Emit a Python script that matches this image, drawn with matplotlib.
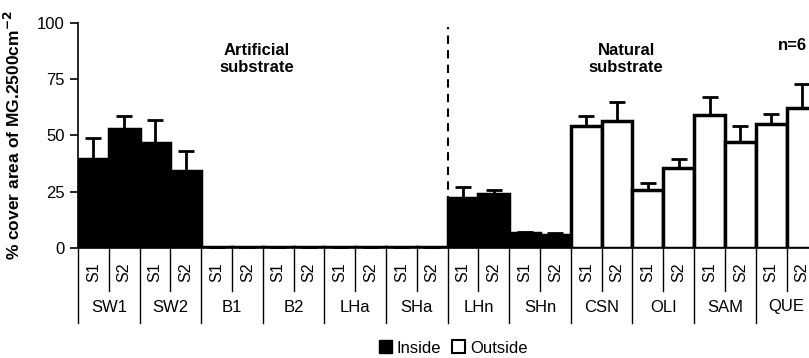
import numpy as np
import matplotlib.pyplot as plt
from matplotlib.patches import Patch
import matplotlib.transforms as mtransforms

plt.rcParams['font.family'] = ['Liberation Sans', 'DejaVu Sans']

# sites and sampling times
sites = ['SW1', 'SW2', 'B1', 'B2', 'LHa', 'SHa', 'LHn', 'SHn', 'CSN', 'OLI', 'SAM', 'QUE']
times = ['S1', 'S2']
# mean cover and upper error (SE), S1/S2 per site
means = [39.5, 52.8, 46.7, 34.4, 0.3, 0.3, 0.3, 0.3, 0.3, 0.3, 0.3, 0.3,
         22.4, 24.0, 6.5, 5.8, 54.2, 56.6, 25.8, 35.6, 59.0, 47.2, 55.0, 62.0]
errors = [9.5, 6.0, 10.3, 8.6, 0, 0, 0, 0, 0, 0, 0, 0,
          4.6, 2.0, 0.5, 0.7, 4.5, 8.4, 3.0, 3.9, 8.0, 6.8, 4.5, 10.8]
inside = ['SW1', 'SW2', 'B1', 'B2', 'LHa', 'SHa', 'LHn', 'SHn']

x = np.arange(len(means))
colors = ['black' if sites[i // 2] in inside else 'white' for i in x]

fig = plt.figure(figsize=(8.09, 3.58), dpi=100)
ax = fig.add_axes([78 / 809, 110 / 358, 731 / 809, 225 / 358])

ax.bar(x, means, width=1.0, color=colors, edgecolor='black', linewidth=2.5,
       yerr=[np.zeros(len(errors)), errors], capsize=6,
       error_kw=dict(ecolor='black', elinewidth=2, capthick=2))

ax.set_xlim(-0.5, 23.23)
ax.set_ylim(0, 100)
ax.set_yticks([0, 25, 50, 75, 100])
ax.tick_params(axis='y', direction='out', length=6, width=1.2, labelsize=12)
ax.set_xticks([])
for s in ['top', 'right']:
    ax.spines[s].set_visible(False)
ax.spines['left'].set_linewidth(1.2)
ax.spines['bottom'].set_linewidth(1.2)
ax.set_ylabel('% cover area of MG.2500cm$^{\\mathbf{-2}}$', fontsize=12.5,
              fontweight='bold', labelpad=10)

# dashed separator between artificial and natural substrate
ax.plot([11.5, 11.5], [0, 98], ls=(0, (4, 3)), color='black', lw=1.5)

ax.text(5.3, 84, 'Artificial\nsubstrate', ha='center', va='center',
        fontsize=12, fontweight='bold', linespacing=1.15)
ax.text(17.3, 84, 'Natural\nsubstrate', ha='center', va='center',
        fontsize=12, fontweight='bold', linespacing=1.15)
ax.text(22.7, 90, 'n=6', ha='center', va='center', fontsize=12, fontweight='bold')

# two-level category table under the axis
trans = mtransforms.blended_transform_factory(ax.transData, ax.transAxes)
short_y = -43 / 225
long_y = -75 / 225
for i in range(len(means) + 1):
    b = i - 0.5
    y_end = long_y if i % 2 == 0 else short_y
    ax.plot([b, b], [0, y_end], color='black', lw=1, transform=trans, clip_on=False)
for i in x:
    ax.text(i, -24 / 225, times[i % 2], rotation=90, ha='center', va='center',
            fontsize=11.5, transform=trans)
for j, name in enumerate(sites):
    ax.text(2 * j + 0.5, -59 / 225, name, ha='center', va='center',
            fontsize=12, transform=trans)

handles = [Patch(facecolor='black', edgecolor='black'),
           Patch(facecolor='white', edgecolor='black', linewidth=1.5)]
fig.legend(handles, ['Inside', 'Outside'], loc='center', bbox_to_anchor=(453 / 809, 10 / 358),
           ncol=2, frameon=False, fontsize=12, handlelength=0.8, handleheight=0.8,
           handletextpad=0.3, columnspacing=0.6)

plt.savefig('out.png', dpi=100)
